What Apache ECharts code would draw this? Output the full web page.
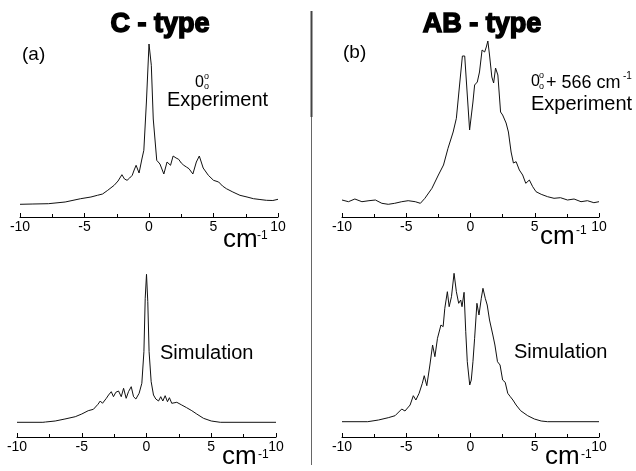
<!DOCTYPE html>
<html><head><meta charset="utf-8">
<script src="https://cdn.jsdelivr.net/npm/echarts@6/dist/echarts.min.js"></script>
<style>html,body{margin:0;padding:0;background:#fff}#c{width:636px;height:471px}</style>
</head><body><div id="c"></div>
<script>
// x: detuning (cm^-1), y: intensity (arb. units)
const xTickLabels = ['-10', '-5', '0', '5', '10'];

const cExpX = [-10,-9,-7.8,-6.5,-5.3,-4.5,-4,-3.6,-3.2,-2.7,-2.4,-2.1,-1.9,-1.7,-1.5,-1.3,-1.15,-1.0,-0.77,-0.55,-0.4,-0.2,0,0.18,0.33,0.6,0.85,1.15,1.4,1.67,1.87,2.1,2.3,2.5,2.7,2.9,3.1,3.4,3.67,3.9,4.2,4.6,5.0,5.4,5.7,6.0,6.5,7.05,7.6,8.1,8.6,9.1,9.6,10];
const cExpY = [12.7,13,13.3,15,18.3,20,21.7,23,26.7,31.7,36,42.3,38,36.7,39,41.7,47,51.7,44,58,66.7,115,173,151.7,98,56.7,53,43,55,51.7,61,59,57.7,54,51.7,50,48.3,43,55,61,49,41.7,36.7,35,31,28.3,25,21.7,20,18.3,17.5,16.7,16.5,17.7];

const abExpX = [-10,-9.5,-9,-8.45,-7.9,-7.4,-6.9,-6.4,-5.9,-5.35,-4.85,-4.3,-3.9,-3.55,-3.0,-2.5,-2.1,-1.75,-1.35,-1.1,-0.85,-0.63,-0.45,-0.25,-0.07,0.06,0.19,0.32,0.53,0.7,0.9,1.1,1.23,1.35,1.48,1.66,1.8,1.95,2.13,2.34,2.5,2.77,2.95,3.16,3.34,3.55,3.8,4.06,4.3,4.58,4.84,5.1,5.5,6.0,6.5,7.0,7.55,8.06,8.6,9.1,9.6,10];
const abExpY = [17,15.3,18,15.3,16.3,17,13.7,12.7,13.7,15.3,16.3,15.3,13.7,18.7,28.7,42,52,68.7,85,98.7,132,161,161,122,87,85,115,132,135,145,167,165,170,176,162,140,134,149,142,105,102,94,85,65,54,55.3,47,42,33.7,37,30.3,25.3,22.7,20.3,18.7,19.3,17,18,15.3,16.3,14.3,15.3];

const cSimX = [-10,-8,-7.8,-7.05,-6.3,-5.5,-5.0,-4.5,-4.1,-3.75,-3.57,-3.4,-3.1,-2.93,-2.72,-2.55,-2.37,-2.16,-1.95,-1.77,-1.57,-1.39,-1.18,-1.0,-0.82,-0.57,-0.36,-0.2,-0.1,0,0.1,0.2,0.36,0.54,0.72,0.93,1.1,1.26,1.44,1.62,1.77,1.95,2.34,2.72,3.1,3.5,3.88,4.4,5.0,5.7,10];
const cSimY = [14.7,14.7,15,16,18,20.3,23,26.3,27.7,32.7,36,33.7,38.7,42,45.3,40.3,44.7,46,40.3,48.7,38.7,45.3,50.3,40.3,38,43.7,53.7,85.3,138.7,162.7,135.3,85.3,55.3,42,38,36,40.3,36,41.3,35.3,39.3,33.7,34.7,32,29.3,26.3,23,18.7,16,14.7,14.7];

const abSimX = [-10,-8,-7.9,-7.16,-6.4,-5.87,-5.35,-5.1,-4.7,-4.45,-4.25,-4.0,-3.75,-3.6,-3.4,-3.16,-2.95,-2.77,-2.57,-2.3,-2.13,-2.0,-1.8,-1.66,-1.48,-1.28,-1.1,-0.92,-0.76,-0.66,-0.5,-0.37,-0.25,-0.06,0.06,0.19,0.32,0.5,0.66,0.84,0.97,1.15,1.3,1.48,1.6,1.74,1.9,2.1,2.3,2.5,2.7,2.9,3.1,3.3,3.55,3.9,4.45,4.97,5.5,6.0,10];
const abSimY = [15.3,15.3,15.7,17,19.3,21.3,28,26,32,41.3,37,43.7,53.7,61.3,51.3,72,92,80.3,98.7,112,110.3,128.7,145.3,130.3,140.3,163.7,145.3,133.7,137,130.3,144.7,105.3,75.3,52,57,75.3,98.7,133.7,122,138.7,148.7,138.7,132,117,118.7,102,92,75.3,72,57,54.7,43.7,40.3,37,32,26.3,21.3,18,16,15.3,15.3];

const FONT = '"Liberation Sans", Arial, Helvetica, sans-serif';
const zip = (xs, ys) => xs.map((x, i) => [x, ys[i]]);

const grids = [
  {left: 20, width: 258, top: 37, height: 180},
  {left: 342, width: 257, top: 37, height: 180},
  {left: 17, width: 259, top: 257, height: 180},
  {left: 342, width: 257, top: 257, height: 180}
];
const seriesData = [zip(cExpX, cExpY), zip(abExpX, abExpY), zip(cSimX, cSimY), zip(abSimX, abSimY)];

const xAxes = grids.map((g, i) => ({
  gridIndex: i, type: 'value', min: -10, max: 10, interval: 5,
  axisLine: {show: true, onZero: false, lineStyle: {color: '#000', width: 1}},
  axisTick: {show: true, inside: true, length: 4, lineStyle: {color: '#000'}},
  minorTick: {show: true, splitNumber: 2, length: 3, lineStyle: {color: '#000'}},
  splitLine: {show: false},
  axisLabel: {margin: 3, color: '#000', fontSize: 14, fontFamily: FONT,
    formatter: v => xTickLabels[Math.round((v + 10) / 5)]}
}));
const yAxes = grids.map((g, i) => ({gridIndex: i, type: 'value', min: 0, max: 180, show: false}));
const series = seriesData.map((d, i) => ({
  type: 'line', xAxisIndex: i, yAxisIndex: i, data: d, showSymbol: false, symbol: 'none',
  lineStyle: {color: '#111', width: 1}, silent: true
}));

function txt(text, x, y, size, opts) {
  opts = opts || {};
  return {type: 'text', x: x, y: y, silent: true, style: Object.assign({
    text: text, fill: '#000', font: (opts.weight || 'normal') + ' ' + size + 'px ' + FONT,
    textAlign: opts.align || 'left', textVerticalAlign: opts.valign || 'middle'
  }, opts.style || {})};
}
const graphics = [
  {type: 'line', silent: true, shape: {x1: 311.5, y1: 11, x2: 311.5, y2: 465}, style: {stroke: '#666', lineWidth: 1}},
  {type: 'line', silent: true, shape: {x1: 311.5, y1: 11, x2: 311.5, y2: 117}, style: {stroke: '#444', lineWidth: 2}},
  txt('C - type', 160, 25, 27, {weight: 'bold', align: 'center', style: {stroke: '#000', lineWidth: 1.5}}),
  txt('AB - type', 482, 25, 27, {weight: 'bold', align: 'center', style: {stroke: '#000', lineWidth: 1.5}}),
  txt('(a)', 22, 55, 19),
  txt('(b)', 343, 53, 19),
  txt('0', 195, 83, 16), txt('o', 204, 77, 9), txt('o', 204, 87, 9),
  txt('Experiment', 167, 100, 20),
  txt('0', 531, 82, 16), txt('o', 539, 76, 9), txt('o', 539, 87, 9),
  txt('+ 566 cm', 546, 83, 18), txt('-1', 623, 76, 10),
  txt('Experiment', 531, 104, 20),
  txt('Simulation', 160, 353, 20),
  txt('Simulation', 514, 352, 20),
  txt('cm', 223, 253, 26, {valign: 'bottom'}), txt('-1', 257, 236, 12),
  txt('cm', 540, 250, 26, {valign: 'bottom'}), txt('-1', 576, 231, 12),
  txt('cm', 222, 470, 26, {valign: 'bottom'}), txt('-1', 258, 455, 12),
  txt('cm', 545, 470, 26, {valign: 'bottom'}), txt('-1', 581, 455, 12)
];

const chart = echarts.init(document.getElementById('c'), null, {renderer: 'canvas'});
chart.setOption({
  animation: false, backgroundColor: '#fff',
  grid: grids, xAxis: xAxes, yAxis: yAxes, series: series, graphic: graphics
});
</script></body></html>
